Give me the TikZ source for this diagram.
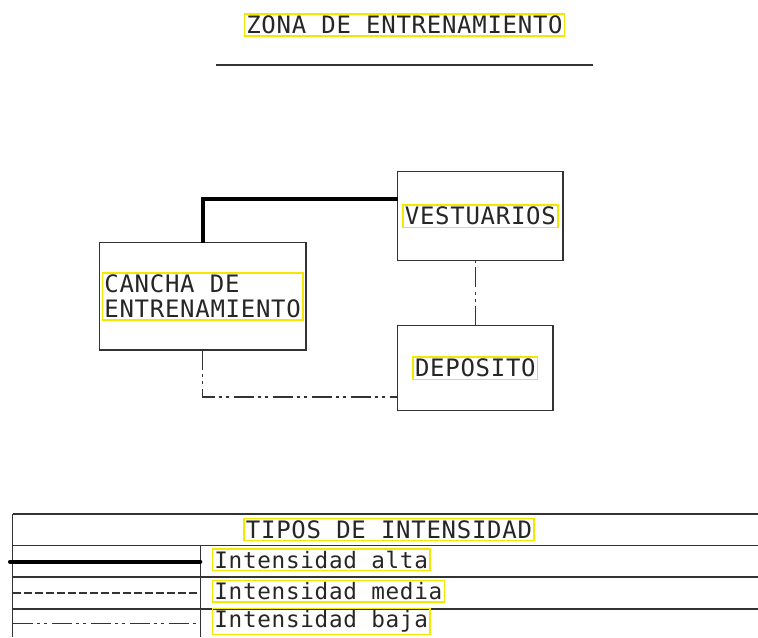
\documentclass[tikz,border=0pt]{standalone}
\usepackage{fontspec}
\usepackage{xcolor}
\usepackage{tikz}
\usetikzlibrary{positioning}
\newfontfamily\cadfont[LetterSpace=3]{DejaVu Sans Mono}
\newdimen\px \px=0.75pt
\definecolor{cadyellow}{RGB}{242,232,0}

\begin{document}
\begin{tikzpicture}[x=0.75pt,y=-0.75pt,
  cadtext/.style={font=\cadfont\fontsize{18}{18.75}\selectfont,text=black!85,
    draw=cadyellow,line width=1.1pt,inner sep=1.5pt},
  cadsmall/.style={cadtext,font=\cadfont\fontsize{17}{18.75}\selectfont},
  room/.style={draw=black!80,line width=.9pt,inner sep=0pt,outer sep=0pt},
  rule/.style={draw=black!80,line width=1pt},
  alta/.style={draw=black,line width=3pt},
  media/.style={draw=black!80,line width=.8pt,dash pattern=on 6pt off 2.25pt},
  baja/.style={draw=black!80,line width=.9pt,
    dash pattern=on 15pt off 3pt on 2.25pt off 3pt on 2.25pt off 3.75pt}
]
 \path[use as bounding box] (0,0) rectangle (758,637);

 % Title and underline
 \node[cadtext] (title) at (404.5,25) {ZONA DE ENTRENAMIENTO};
 \draw[rule] (216,65) -- (593,65);

 % Rooms
 \node[room,minimum width=206.7\px,minimum height=107.3\px] (cancha) at (202.65,296.35) {};
 \node[room,minimum width=165.3\px,minimum height=89\px] (vestuarios) at (480.35,216.2) {};
 \node[room,minimum width=155.3\px,minimum height=85\px] (deposito) at (475.35,368.2) {};
 \node[cadtext,align=left] (canchatxt) at (cancha.center) {CANCHA DE\\ENTRENAMIENTO};
 \node[cadtext] (vestuariostxt) at (vestuarios.center) {VESTUARIOS};
 \node[cadtext] (depositotxt) at (deposito.center) {DEPOSITO};

 % Relations between rooms
 \draw[alta] (cancha.north) |- (vestuarios.west |- 0,198.5);
 \draw[baja] (deposito.north) -- (deposito.north |- vestuarios.south);
 \draw[baja] (cancha.south) |- (deposito.west |- 0,397);

 % Legend table
 \draw[rule] (12.7,514) -- (758,514);
 \foreach \yy in {545.7,577,609}
   \draw[rule] (12.7,\yy) -- (758,\yy);
 \draw[rule] (12.7,514) -- (12.7,637);
 \draw[rule] (200.3,545.7) -- (200.3,637);
 \node[cadtext] (tipos) at (389,529.5) {TIPOS DE INTENSIDAD};
 \draw[alta,line cap=round] (10,561.7) -- (200.3,561.7);
 \foreach \yy/\sty in {561.7/alta,593/media,623.7/baja} {
   \draw[\sty] (12.7,\yy) -- (200.3,\yy);
   \node[cadsmall,anchor=west] (txt\sty) at (211.7,\yy-2) {Intensidad \sty};
 }
\end{tikzpicture}
\end{document}
